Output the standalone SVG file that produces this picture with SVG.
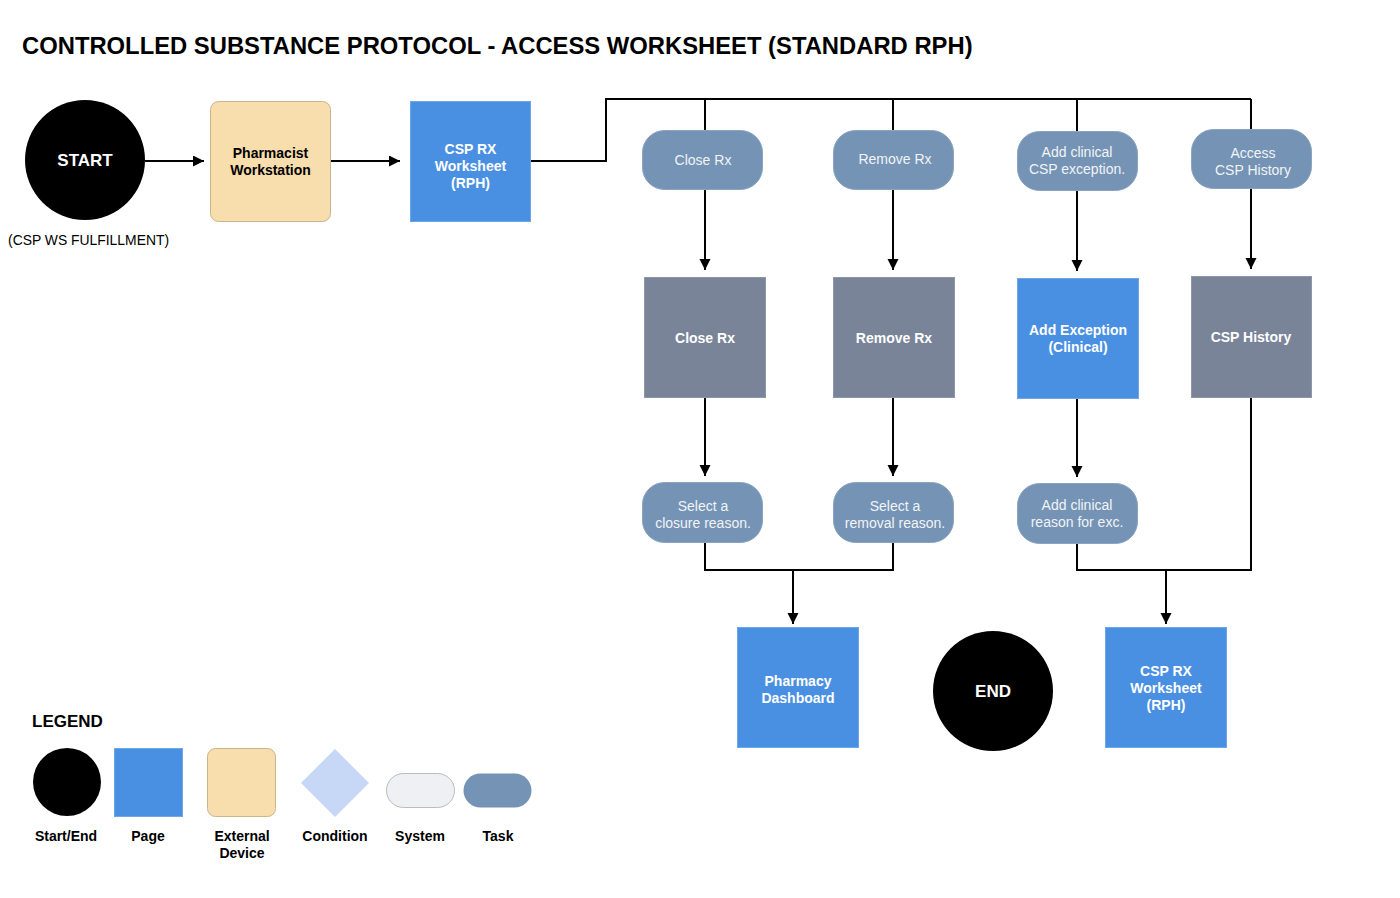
<svg xmlns="http://www.w3.org/2000/svg" width="1400" height="898" viewBox="0 0 1400 898">
<style>
text{font-family:"Liberation Sans",Arial,sans-serif}
.title{font-size:23.8px;font-weight:bold;fill:#000}
.se{fill:#000}
.set{font-size:17px;font-weight:bold;fill:#fff;text-anchor:middle}
.page{fill:#4A90E2;stroke:#6fa6e6;stroke-width:1}
.gpage{fill:#7A8499;stroke:#8e97a9;stroke-width:1}
.pt{font-size:14px;font-weight:bold;fill:#fff;text-anchor:middle}
.ext{fill:#F8DDAD;stroke:#c9b48f;stroke-width:1}
.et{font-size:14px;font-weight:bold;fill:#000;text-anchor:middle}
.task{fill:#7493B5;stroke:#8aa4c2;stroke-width:1}
.tt{font-size:14px;fill:#f2f4f7;text-anchor:middle}
.conn{fill:none;stroke:#000;stroke-width:2}
.lt{font-size:14px;font-weight:bold;fill:#000;text-anchor:middle}
</style>
<defs>
<marker id="ah" markerWidth="12" markerHeight="12" refX="11" refY="5.5" orient="auto" markerUnits="userSpaceOnUse">
<path d="M0,0 L11,5.5 L0,11 Z" fill="#000"/>
</marker>
</defs>
<rect width="1400" height="898" fill="#fff"/>
<text class="title" x="22" y="54">CONTROLLED SUBSTANCE PROTOCOL - ACCESS WORKSHEET (STANDARD RPH)</text>

<g id="connectors">
<path class="conn" d="M145,161 H204" marker-end="url(#ah)"/>
<path class="conn" d="M330,161 H400" marker-end="url(#ah)"/>
<path class="conn" d="M530,161 H606 V99 H1251"/>
<path class="conn" d="M705,99 V130"/>
<path class="conn" d="M893,99 V130"/>
<path class="conn" d="M1077,99 V131"/>
<path class="conn" d="M1251,99 V129"/>
<path class="conn" d="M705,189 V270" marker-end="url(#ah)"/>
<path class="conn" d="M893,189 V270" marker-end="url(#ah)"/>
<path class="conn" d="M1077,190 V271" marker-end="url(#ah)"/>
<path class="conn" d="M1251,188 V269" marker-end="url(#ah)"/>
<path class="conn" d="M705,397 V476" marker-end="url(#ah)"/>
<path class="conn" d="M893,397 V476" marker-end="url(#ah)"/>
<path class="conn" d="M1077,398 V477" marker-end="url(#ah)"/>
<path class="conn" d="M705,542 V570 H893 V542"/>
<path class="conn" d="M793,570 V624" marker-end="url(#ah)"/>
<path class="conn" d="M1077,543 V570 H1251 V397"/>
<path class="conn" d="M1166,570 V624" marker-end="url(#ah)"/>
</g>

<g id="start">
<circle class="se" cx="85" cy="160" r="60"/>
<text class="set" x="85" y="166">START</text>
<text x="8" y="245" font-size="13.9" fill="#000">(CSP WS FULFILLMENT)</text>
</g>
<g id="pharmacist-workstation">
<rect class="ext" x="210.5" y="101.5" width="120" height="120" rx="8"/>
<text class="et" x="270.5" y="158">Pharmacist</text>
<text class="et" x="270.5" y="175">Workstation</text>
</g>
<g id="csp-rx-worksheet">
<rect class="page" x="410.5" y="101.5" width="120" height="120"/>
<text class="pt" x="470.5" y="154">CSP RX</text>
<text class="pt" x="470.5" y="171">Worksheet</text>
<text class="pt" x="470.5" y="188">(RPH)</text>
</g>

<g id="task-close-rx">
<rect class="task" x="642.5" y="130.5" width="120" height="59" rx="22"/>
<text class="tt" x="703" y="165">Close Rx</text>
</g>
<g id="task-remove-rx">
<rect class="task" x="833.5" y="130.5" width="120" height="59" rx="22"/>
<text class="tt" x="895" y="164">Remove Rx</text>
</g>
<g id="task-add-clinical">
<rect class="task" x="1017.5" y="131.5" width="120" height="59" rx="22"/>
<text class="tt" x="1077" y="157">Add clinical</text>
<text class="tt" x="1077" y="174">CSP exception.</text>
</g>
<g id="task-access-history">
<rect class="task" x="1191.5" y="129.5" width="120" height="59" rx="22"/>
<text class="tt" x="1253" y="158">Access</text>
<text class="tt" x="1253" y="175">CSP History</text>
</g>

<g id="page-close-rx">
<rect class="gpage" x="644.5" y="277.5" width="121" height="120"/>
<text class="pt" x="705" y="343">Close Rx</text>
</g>
<g id="page-remove-rx">
<rect class="gpage" x="833.5" y="277.5" width="121" height="120"/>
<text class="pt" x="894" y="343">Remove Rx</text>
</g>
<g id="page-add-exception">
<rect class="page" x="1017.5" y="278.5" width="121" height="120"/>
<text class="pt" x="1078" y="335">Add Exception</text>
<text class="pt" x="1078" y="352">(Clinical)</text>
</g>
<g id="page-csp-history">
<rect class="gpage" x="1191.5" y="276.5" width="120" height="121"/>
<text class="pt" x="1251" y="342">CSP History</text>
</g>

<g id="task-closure-reason">
<rect class="task" x="642.5" y="482.5" width="120" height="60" rx="22"/>
<text class="tt" x="703" y="511">Select a</text>
<text class="tt" x="703" y="528">closure reason.</text>
</g>
<g id="task-removal-reason">
<rect class="task" x="833.5" y="482.5" width="120" height="60" rx="22"/>
<text class="tt" x="895" y="511">Select a</text>
<text class="tt" x="895" y="528">removal reason.</text>
</g>
<g id="task-clinical-reason">
<rect class="task" x="1017.5" y="483.5" width="120" height="60" rx="22"/>
<text class="tt" x="1077" y="510">Add clinical</text>
<text class="tt" x="1077" y="527">reason for exc.</text>
</g>

<g id="pharmacy-dashboard">
<rect class="page" x="737.5" y="627.5" width="121" height="120"/>
<text class="pt" x="798" y="686">Pharmacy</text>
<text class="pt" x="798" y="703">Dashboard</text>
</g>
<g id="end">
<circle class="se" cx="993" cy="691" r="60"/>
<text class="set" x="993" y="697">END</text>
</g>
<g id="csp-rx-worksheet-2">
<rect class="page" x="1105.5" y="627.5" width="121" height="120"/>
<text class="pt" x="1166" y="676">CSP RX</text>
<text class="pt" x="1166" y="693">Worksheet</text>
<text class="pt" x="1166" y="710">(RPH)</text>
</g>

<g id="legend">
<text x="32" y="727" font-size="17" font-weight="bold" fill="#000">LEGEND</text>
<ellipse cx="67" cy="782" rx="34" ry="34" fill="#000"/>
<rect x="114.5" y="748.5" width="68" height="68" fill="#4A90E2" stroke="#6fa6e6"/>
<rect x="207.5" y="748.5" width="68" height="68" rx="8" fill="#F8DDAD" stroke="#c9b48f"/>
<path d="M335,749 L369,783 L335,817 L301,783 Z" fill="#C6D8F5"/>
<rect x="386.5" y="773.5" width="68" height="34" rx="17" fill="#EEF0F4" stroke="#b9bcc2"/>
<rect x="463.5" y="773.5" width="68" height="34" rx="17" fill="#7493B5"/>
<text class="lt" x="66" y="841">Start/End</text>
<text class="lt" x="148" y="841">Page</text>
<text class="lt" x="242" y="841">External</text>
<text class="lt" x="242" y="858">Device</text>
<text class="lt" x="335" y="841">Condition</text>
<text class="lt" x="420" y="841">System</text>
<text class="lt" x="498" y="841">Task</text>
</g>
</svg>
